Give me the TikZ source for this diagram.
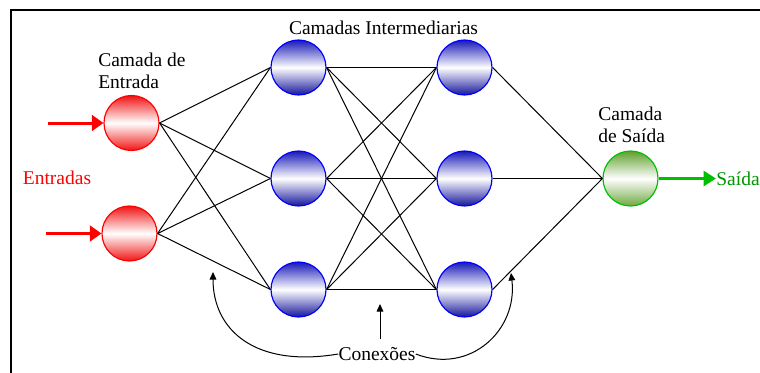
\documentclass[tikz,border=0pt]{standalone}
\usepackage{fontspec}
\setmainfont{Liberation Serif}
\usetikzlibrary{arrows.meta}
\definecolor{inred}{RGB}{240,20,20}
\definecolor{hidblue}{RGB}{25,25,185}
\definecolor{outgreen}{RGB}{95,160,45}
\definecolor{linegreen}{RGB}{0,190,0}
\definecolor{txtgreen}{RGB}{0,150,0}
\tikzset{
  neuron/.style={circle, minimum size=55*0.6pt, inner sep=0pt, line width=0.7pt},
  inneuron/.style={neuron, draw=red, top color=inred, bottom color=inred, middle color=white},
  hidneuron/.style={neuron, draw=blue, top color=hidblue, bottom color=hidblue!85!black, middle color=white},
  outneuron/.style={neuron, draw=linegreen, top color=outgreen, bottom color=outgreen!90!white, middle color=white},
  conn/.style={line width=0.6pt},
  label/.style={font=\fontsize{11.7}{13.2}\selectfont, inner sep=0pt},
}
\begin{document}
\begin{tikzpicture}[x=0.6pt, y=-0.6pt]
    \useasboundingbox (0,0) rectangle (760,372);

    % ---- Moldura ----
    \begin{scope}
      \clip (0,0) rectangle (760,372);
      \draw[line width=1pt] (11,400) -- (11,10) -- (790,10);
    \end{scope}

    % ---- Camada de entrada ----
    \node[inneuron] (in1) at (131.5, 123) {};
    \node[inneuron] (in2) at (129.5, 233.5) {};

    % ---- Camadas intermediarias ----
    \node[hidneuron] (ha1) at (298.5, 67.5) {};
    \node[hidneuron] (ha2) at (298.5, 178.5) {};
    \node[hidneuron] (ha3) at (298.5, 289.5) {};
    \node[hidneuron] (hb1) at (464.5, 67.5) {};
    \node[hidneuron] (hb2) at (464.5, 178.5) {};
    \node[hidneuron] (hb3) at (464.5, 289.5) {};

    % ---- Camada de saida ----
    \node[outneuron] (out) at (630.5, 178.5) {};

    % ---- Textos ----
    \node[label, align=left, anchor=north west] (lblin) at (98, 53) {Camada de\\Entrada};
    \node[label] (lblhid) at (383.5, 28) {Camadas Intermediarias};
    \node[label, align=left, anchor=north west] (lblout) at (598, 107) {Camada\\de Saída};
    \node[label, text=red] (lblentr) at (57, 178) {Entradas};
    \node[label, text=txtgreen, anchor=west] (lblsai) at (716, 178.5) {Saída};
    \node[label] (lblcon) at (377, 354) {Conexões};

    % ---- Setas de entrada e saida ----
    \coordinate (src1) at (48, 123);
    \coordinate (src2) at (46, 233.5);
    \draw[red, line width=1.8pt, -{Triangle[length=7pt, width=9.5pt]}] (src1) -- (in1.west);
    \draw[red, line width=1.8pt, -{Triangle[length=7pt, width=9.5pt]}] (src2) -- (in2.west);
    \draw[linegreen, line width=1.8pt, -{Triangle[length=7.5pt, width=9pt]}] (out.east) -- (lblsai.west);

    % ---- Ligacoes: entrada -> intermediaria 1 ----
    \draw[conn] (in1.east) -- (ha1.west);
    \draw[conn] (in1.east) -- (ha2.west);
    \draw[conn] (in1.east) -- (ha3.west);
    \draw[conn] (in2.east) -- (ha1.west);
    \draw[conn] (in2.east) -- (ha2.west);
    \draw[conn] (in2.east) -- (ha3.west);

    % ---- Ligacoes: intermediaria 1 -> intermediaria 2 ----
    \draw[conn] (ha1.east) -- (hb1.west);
    \draw[conn] (ha1.east) -- (hb2.west);
    \draw[conn] (ha1.east) -- (hb3.west);
    \draw[conn] (ha2.east) -- (hb1.west);
    \draw[conn] (ha2.east) -- (hb2.west);
    \draw[conn] (ha2.east) -- (hb3.west);
    \draw[conn] (ha3.east) -- (hb1.west);
    \draw[conn] (ha3.east) -- (hb2.west);
    \draw[conn] (ha3.east) -- (hb3.west);

    % ---- Ligacoes: intermediaria 2 -> saida ----
    \draw[conn] (hb1.east) -- (out.west);
    \draw[conn] (hb2.east) -- (out.west);
    \draw[conn] (hb3.east) -- (out.west);

    % ---- Setas de "Conexoes" ----
    \coordinate (tipl) at (213, 272);
    \coordinate (tipm) at (380, 304);
    \coordinate (tipr) at (511, 273);
    \draw[conn, -{Triangle[length=4.5pt, width=4pt]}] (380, 339) -- (tipm);
    \draw[conn, -{Triangle[length=4.5pt, width=4pt]}] (lblcon.west) .. controls (255, 368) and (213, 330) .. (tipl);
    \draw[conn, -{Triangle[length=4.5pt, width=4pt]}] (lblcon.east) .. controls (470, 375) and (518, 330) .. (tipr);

  \end{tikzpicture}
\end{document}
